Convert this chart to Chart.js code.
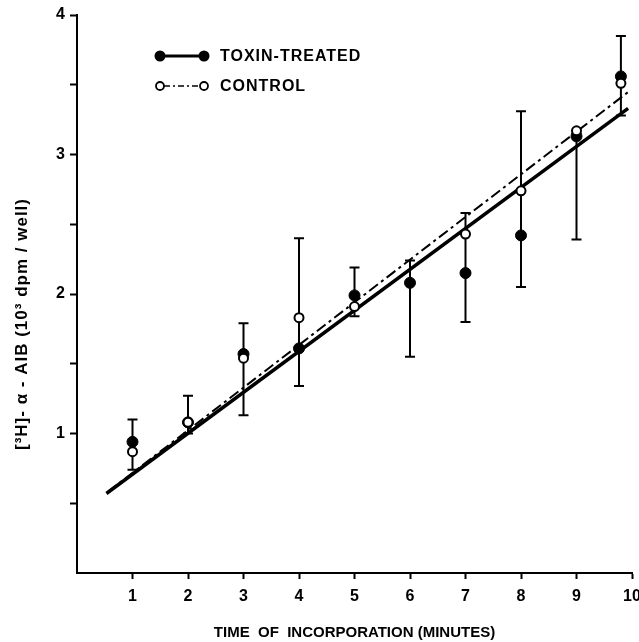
<!DOCTYPE html>
<html>
<head>
<meta charset="utf-8">
<script src="https://cdn.jsdelivr.net/npm/chart.js@4.4.1/dist/chart.umd.min.js"></script>
<style>
  html, body { margin: 0; padding: 0; background: #fff; }
  #wrap { width: 639px; height: 642px; }
</style>
</head>
<body>
<div id="wrap"><canvas id="aibChart"></canvas></div>
<script>
// time points (minutes)
const times = [1, 2, 3, 4, 5, 6, 7, 8, 9, 9.8];
// [3H]-a-AIB uptake, 10^3 dpm / well
const toxinVals = [0.94, 1.08, 1.57, 1.61, 1.99, 2.08, 2.15, 2.42, 3.13, 3.56];
const controlVals = [0.87, 1.08, 1.54, 1.83, 1.91, null, 2.43, 2.74, 3.17, 3.51];
// error bar range at each time point
const errLow = [0.74, 1.00, 1.13, 1.34, 1.84, 1.55, 1.80, 2.05, 2.39, 3.28];
const errHigh = [1.10, 1.27, 1.79, 2.40, 2.19, 2.24, 2.58, 3.31, 3.15, 3.85];
// regression lines (end points)
const toxinFitX = [0.53, 9.93];
const toxinFitY = [0.57, 3.33];
const controlFitX = [0.55, 9.97];
const controlFitY = [0.58, 3.46];

const xTicks = [1, 2, 3, 4, 5, 6, 7, 8, 9, 10];
const yTicks = [1, 2, 3, 4];

const FONT = "'Liberation Sans', Arial, sans-serif";
const Y_TITLE = '[³H]- α - AIB (10³ dpm / well)';

function pairs(xs, ys) {
    return xs.map((x, i) => ({ x: x, y: ys[i] })).filter(p => p.y !== null);
}

const errorBars = {
    id: 'errorBars',
    beforeDatasetsDraw(chart) {
        const ctx = chart.ctx;
        const xs = chart.scales.x, ys = chart.scales.y;
        ctx.save();
        ctx.strokeStyle = '#000';
        ctx.lineWidth = 2;
        times.forEach((t, i) => {
            const px = xs.getPixelForValue(t);
            const top = ys.getPixelForValue(errHigh[i]);
            const bot = ys.getPixelForValue(errLow[i]);
            ctx.beginPath();
            ctx.moveTo(px, top); ctx.lineTo(px, bot);
            ctx.moveTo(px - 5, top); ctx.lineTo(px + 5, top);
            ctx.moveTo(px - 5, bot); ctx.lineTo(px + 5, bot);
            ctx.stroke();
        });
        ctx.restore();
    }
};

const legendBox = {
    id: 'legendBox',
    afterDraw(chart) {
        const ctx = chart.ctx;
        ctx.save();
        ctx.fillStyle = '#000';
        ctx.strokeStyle = '#000';
        // toxin row
        ctx.lineWidth = 3;
        ctx.beginPath(); ctx.moveTo(160, 56); ctx.lineTo(204, 56); ctx.stroke();
        [160, 204].forEach(x => { ctx.beginPath(); ctx.arc(x, 56, 5.5, 0, Math.PI * 2); ctx.fill(); });
        // control row
        ctx.lineWidth = 1.5;
        ctx.setLineDash([6, 3, 2, 3]);
        ctx.beginPath(); ctx.moveTo(164, 86); ctx.lineTo(200, 86); ctx.stroke();
        ctx.setLineDash([]);
        [160, 204].forEach(x => {
            ctx.beginPath(); ctx.arc(x, 86, 4, 0, Math.PI * 2);
            ctx.fillStyle = '#fff'; ctx.fill(); ctx.lineWidth = 1.8; ctx.stroke();
        });
        ctx.fillStyle = '#000';
        ctx.font = 'bold 16px ' + FONT;
        ctx.letterSpacing = '1px';
        ctx.textBaseline = 'middle';
        ctx.fillText('TOXIN-TREATED', 220, 57);
        ctx.fillText('CONTROL', 220, 87);
        // y axis title, centred a little below the plot middle
        ctx.translate(22, 324);
        ctx.rotate(-Math.PI / 2);
        ctx.textAlign = 'center';
        ctx.font = 'bold 17px ' + FONT;
        ctx.letterSpacing = '1px';
        ctx.fillText(Y_TITLE, 0, 0);
        ctx.restore();
    }
};

new Chart(document.getElementById('aibChart'), {
    type: 'scatter',
    data: {
        datasets: [
            {
                label: 'TOXIN-TREATED',
                data: pairs(times, toxinVals),
                backgroundColor: '#000',
                borderColor: '#000',
                pointRadius: 5.5,
                showLine: false,
                order: 1
            },
            {
                label: 'CONTROL',
                data: pairs(times, controlVals),
                backgroundColor: '#fff',
                borderColor: '#000',
                pointBorderWidth: 2,
                pointRadius: 4.5,
                showLine: false,
                order: 0
            },
            {
                label: 'toxin fit',
                data: pairs(toxinFitX, toxinFitY),
                borderColor: '#000',
                borderWidth: 3.5,
                pointRadius: 0,
                showLine: true,
                order: 3
            },
            {
                label: 'control fit',
                data: pairs(controlFitX, controlFitY),
                borderColor: '#000',
                borderWidth: 2,
                borderDash: [11, 4, 3, 4],
                pointRadius: 0,
                showLine: true,
                order: 2
            }
        ]
    },
    options: {
        responsive: true,
        maintainAspectRatio: false,
        animation: false,
        layout: { padding: { top: 15, right: 7, left: 0, bottom: 0 } },
        plugins: {
            legend: { display: false },
            tooltip: { enabled: false }
        },
        scales: {
            x: {
                type: 'linear',
                min: 0,
                max: 10,
                afterFit(scale) {
                    scale.height = 69;
                    scale.paddingLeft = 0;
                    scale.paddingRight = 0;
                },
                afterBuildTicks(scale) { scale.ticks = xTicks.map(v => ({ value: v })); },
                grid: { drawOnChartArea: false, drawTicks: true, tickLength: 6, tickColor: '#000', tickWidth: 2 },
                border: { display: true, color: '#000', width: 2 },
                ticks: {
                    color: '#000',
                    padding: 8,
                    maxRotation: 0,
                    font: { family: FONT, size: 16, weight: 'bold' }
                },
                title: {
                    display: true,
                    text: 'TIME  OF  INCORPORATION (MINUTES)',
                    color: '#000',
                    font: { family: FONT, size: 15, weight: 'bold' },
                    padding: { top: 18, bottom: 0 }
                }
            },
            y: {
                min: 0,
                max: 4,
                afterFit(scale) {
                    scale.width = 77;
                    scale.paddingTop = 0;
                    scale.paddingBottom = 0;
                },
                afterBuildTicks(scale) {
                    const t = [];
                    for (let v = 0.5; v <= 4; v += 0.5) t.push({ value: v });
                    scale.ticks = t;
                },
                grid: { drawOnChartArea: false, drawTicks: true, tickLength: 7, tickColor: '#000', tickWidth: 2 },
                border: { display: true, color: '#000', width: 2 },
                ticks: {
                    color: '#000',
                    padding: 5,
                    font: { family: FONT, size: 16, weight: 'bold' },
                    callback: v => yTicks.includes(v) ? String(v) : ''
                },
                title: { display: false }
            }
        }
    },
    plugins: [errorBars, legendBox]
});
</script>
</body>
</html>
